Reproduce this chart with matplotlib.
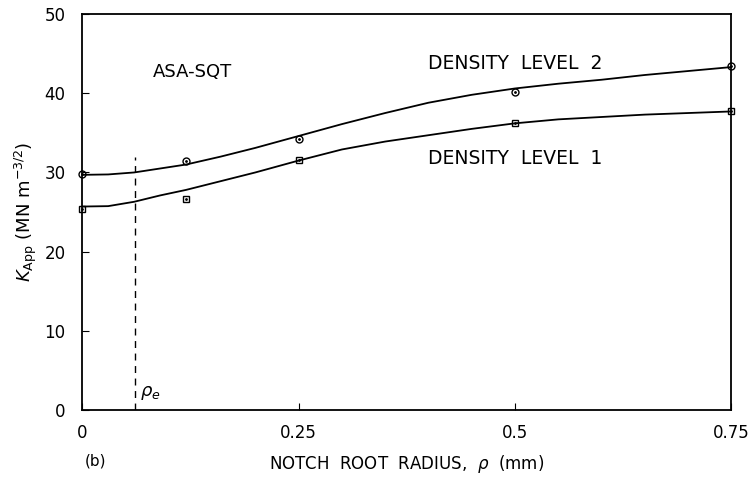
import matplotlib
matplotlib.use('Agg')
import matplotlib.pyplot as plt

plt.rcParams['font.family'] = 'DejaVu Sans'

# measured points
rho = [0.0, 0.12, 0.25, 0.5, 0.75]
k_level2 = [29.8, 31.5, 34.2, 40.1, 43.4]
k_level1 = [25.4, 26.7, 31.6, 36.3, 37.7]

# fitted curves
curve_x = [0.0, 0.03, 0.06, 0.09, 0.12, 0.16, 0.2, 0.25, 0.3, 0.35,
           0.4, 0.45, 0.5, 0.55, 0.6, 0.65, 0.7, 0.75]
curve_level2 = [29.7, 29.75, 30.0, 30.5, 31.0, 32.0, 33.1, 34.6, 36.1, 37.5,
                38.8, 39.8, 40.6, 41.2, 41.7, 42.3, 42.8, 43.3]
curve_level1 = [25.7, 25.75, 26.3, 27.1, 27.8, 28.9, 30.0, 31.5, 32.9, 33.9,
                34.7, 35.5, 36.2, 36.7, 37.0, 37.3, 37.5, 37.7]

rho_e = 0.061

fig = plt.figure(figsize=(7.54, 4.82), dpi=100)
ax = fig.add_axes([0.109, 0.149, 0.861, 0.822])

ax.plot(curve_x, curve_level2, color='black', lw=1.3)
ax.plot(curve_x, curve_level1, color='black', lw=1.3)

ax.plot(rho, k_level2, 'o', ms=5, mfc='none', mec='black', mew=1.0, clip_on=False)
ax.plot(rho, k_level2, '.', ms=2, color='black', clip_on=False)
ax.plot(rho, k_level1, 's', ms=5, mfc='none', mec='black', mew=1.0, clip_on=False)
ax.plot(rho, k_level1, '.', ms=2, color='black', clip_on=False)

# rho_e marker line
ax.plot([rho_e, rho_e], [0, 32], color='black', lw=1.0, dashes=(5, 4))

ax.set_xlim(0, 0.75)
ax.set_ylim(0, 50)
ax.set_xticks([0, 0.25, 0.5, 0.75])
ax.set_xticklabels(['0', '0.25', '0.5', '0.75'])
ax.set_yticks([0, 10, 20, 30, 40, 50])
ax.tick_params(direction='in', length=5, labelsize=12)
ax.tick_params(axis='x', pad=10)
ax.tick_params(axis='y', pad=12)
for s in ax.spines.values():
    s.set_linewidth(1.3)

ax.text(0.127, 42.7, 'ASA-SQT', fontsize=13, ha='center', va='center')
ax.text(0.399, 43.8, 'DENSITY  LEVEL  2', fontsize=13.5, ha='left', va='center')
ax.text(0.399, 31.8, 'DENSITY  LEVEL  1', fontsize=13.5, ha='left', va='center')
ax.text(rho_e + 0.006, 2.2, r'$\rho_e$', fontsize=13, ha='left', va='center')

ax.set_xlabel(r'NOTCH  ROOT  RADIUS,  $\rho$  (mm)', fontsize=12, labelpad=8)
ax.set_ylabel(r'$K_{\mathrm{App}}$ (MN m$^{-3/2}$)', fontsize=13, labelpad=4)
fig.text(0.126, 0.035, '(b)', fontsize=11, ha='center')

fig.savefig('out.png', dpi=100)
